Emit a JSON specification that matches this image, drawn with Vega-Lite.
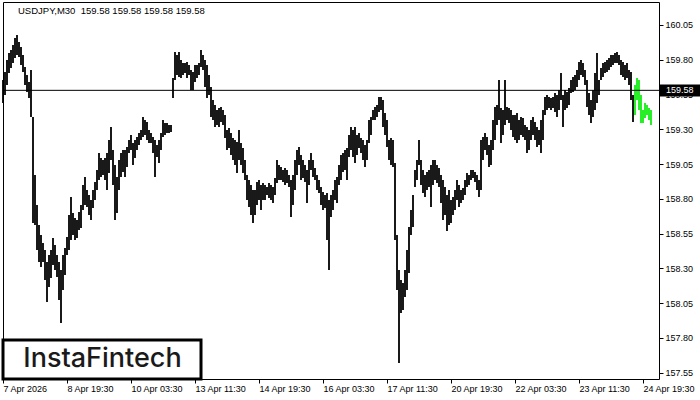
{
"$schema": "https://vega.github.io/schema/vega-lite/v6.json",
"width": 656, "height": 377,
"autosize": {"type": "none"},
"padding": {"left": 3, "top": 2, "right": 41, "bottom": 21},
"background": "white",
"config": {
"view": {"stroke": "black", "strokeWidth": 1},
"font": "Liberation Sans",
"axis": {"grid": false, "domain": false, "labelFlush": false, "labelOverlap": false, "labelBound": false, "tickSize": 4, "tickColor": "black", "labelColor": "black", "labelFontSize": 9, "labelFont": "Liberation Sans"}
},
"resolve": {"axis": {"x": "independent", "y": "independent"}},
"datasets": {
"bars": [
{"i":0,"h":159.655,"l":159.489},{"i":2,"h":159.712,"l":159.547},{"i":4,"h":159.798,"l":159.619},{"i":6,"h":159.849,"l":159.705},{"i":8,"h":159.870,"l":159.741},{"i":10,"h":159.906,"l":159.777},{"i":12,"h":159.957,"l":159.813},{"i":14,"h":159.978,"l":159.834},{"i":16,"h":159.928,"l":159.820},{"i":18,"h":159.892,"l":159.762},
{"i":20,"h":159.834,"l":159.712},{"i":22,"h":159.748,"l":159.619},{"i":24,"h":159.691,"l":159.568},{"i":26,"h":159.640,"l":159.525},{"i":28,"h":159.726,"l":159.389},{"i":30,"h":159.389,"l":158.627},{"i":32,"h":158.972,"l":158.612},{"i":34,"h":158.756,"l":158.432},{"i":36,"h":158.612,"l":158.346},{"i":38,"h":158.540,"l":158.310},
{"i":40,"h":158.483,"l":158.346},{"i":42,"h":158.432,"l":158.217},{"i":44,"h":158.346,"l":158.059},{"i":46,"h":158.397,"l":158.166},{"i":48,"h":158.432,"l":158.231},{"i":50,"h":158.519,"l":158.325},{"i":52,"h":158.468,"l":158.289},{"i":54,"h":158.397,"l":158.238},{"i":56,"h":158.346,"l":158.073},{"i":58,"h":158.289,"l":157.908},
{"i":60,"h":158.397,"l":158.145},{"i":62,"h":158.447,"l":158.253},{"i":64,"h":158.526,"l":158.397},{"i":66,"h":158.684,"l":158.432},{"i":68,"h":158.813,"l":158.504},{"i":70,"h":158.698,"l":158.540},{"i":72,"h":158.663,"l":158.504},{"i":74,"h":158.648,"l":158.519},{"i":76,"h":158.706,"l":158.576},{"i":78,"h":158.756,"l":158.591},
{"i":80,"h":158.900,"l":158.720},{"i":82,"h":158.957,"l":158.756},{"i":84,"h":158.864,"l":158.742},{"i":86,"h":158.828,"l":158.684},{"i":88,"h":158.792,"l":158.648},{"i":90,"h":158.864,"l":158.734},{"i":92,"h":158.921,"l":158.792},{"i":94,"h":159.008,"l":158.864},{"i":96,"h":159.130,"l":158.936},{"i":98,"h":159.094,"l":158.957},
{"i":100,"h":159.080,"l":158.972},{"i":102,"h":159.094,"l":158.936},{"i":104,"h":159.130,"l":158.864},{"i":106,"h":159.223,"l":158.986},{"i":108,"h":159.317,"l":159.080},{"i":110,"h":159.151,"l":158.900},{"i":112,"h":159.044,"l":158.648},{"i":114,"h":158.957,"l":158.698},{"i":116,"h":159.080,"l":158.864},{"i":118,"h":159.130,"l":158.957},
{"i":120,"h":159.151,"l":158.993},{"i":122,"h":159.151,"l":158.957},{"i":124,"h":159.173,"l":159.029},{"i":126,"h":159.223,"l":159.130},{"i":128,"h":159.259,"l":159.151},{"i":130,"h":159.202,"l":159.044},{"i":132,"h":159.223,"l":159.094},{"i":134,"h":159.245,"l":159.151},{"i":136,"h":159.274,"l":159.187},{"i":138,"h":159.295,"l":159.223},
{"i":140,"h":159.389,"l":159.245},{"i":142,"h":159.367,"l":159.259},{"i":144,"h":159.353,"l":159.223},{"i":146,"h":159.295,"l":159.202},{"i":148,"h":159.274,"l":159.202},{"i":150,"h":159.245,"l":159.130},{"i":152,"h":159.223,"l":158.957},{"i":154,"h":159.187,"l":159.101},{"i":156,"h":159.223,"l":159.058},{"i":158,"h":159.274,"l":159.151},
{"i":160,"h":159.367,"l":159.245},{"i":162,"h":159.345,"l":159.259},{"i":164,"h":159.345,"l":159.274},{"i":166,"h":159.331,"l":159.274},{"i":168,"h":159.331,"l":159.281},{"i":170,"h":159.669,"l":159.525},{"i":172,"h":159.856,"l":159.655},{"i":174,"h":159.834,"l":159.691},{"i":176,"h":159.856,"l":159.676},{"i":178,"h":159.798,"l":159.669},
{"i":180,"h":159.777,"l":159.691},{"i":182,"h":159.777,"l":159.705},{"i":184,"h":159.784,"l":159.669},{"i":186,"h":159.762,"l":159.691},{"i":188,"h":159.726,"l":159.583},{"i":190,"h":159.712,"l":159.583},{"i":192,"h":159.762,"l":159.640},{"i":194,"h":159.762,"l":159.669},{"i":196,"h":159.777,"l":159.691},{"i":198,"h":159.870,"l":159.748},
{"i":200,"h":159.834,"l":159.726},{"i":202,"h":159.798,"l":159.604},{"i":204,"h":159.762,"l":159.525},{"i":206,"h":159.691,"l":159.547},{"i":208,"h":159.604,"l":159.389},{"i":210,"h":159.511,"l":159.367},{"i":212,"h":159.475,"l":159.317},{"i":214,"h":159.439,"l":159.331},{"i":216,"h":159.453,"l":159.317},{"i":218,"h":159.460,"l":159.353},
{"i":220,"h":159.439,"l":159.331},{"i":222,"h":159.403,"l":159.238},{"i":224,"h":159.295,"l":159.151},{"i":226,"h":159.310,"l":159.166},{"i":228,"h":159.274,"l":159.115},{"i":230,"h":159.238,"l":159.080},{"i":232,"h":159.223,"l":159.044},{"i":234,"h":159.209,"l":158.986},{"i":236,"h":159.295,"l":159.080},{"i":238,"h":159.202,"l":159.044},
{"i":240,"h":159.166,"l":158.986},{"i":242,"h":159.080,"l":158.936},{"i":244,"h":158.972,"l":158.792},{"i":246,"h":158.936,"l":158.742},{"i":248,"h":158.900,"l":158.684},{"i":250,"h":158.864,"l":158.627},{"i":252,"h":158.864,"l":158.684},{"i":254,"h":158.921,"l":158.756},{"i":256,"h":158.936,"l":158.792},{"i":258,"h":158.900,"l":158.720},
{"i":260,"h":158.914,"l":158.792},{"i":262,"h":158.900,"l":158.792},{"i":264,"h":158.885,"l":158.828},{"i":266,"h":158.914,"l":158.806},{"i":268,"h":158.900,"l":158.792},{"i":270,"h":158.885,"l":158.770},{"i":272,"h":158.950,"l":158.828},{"i":274,"h":159.080,"l":158.914},{"i":276,"h":159.044,"l":158.936},{"i":278,"h":159.029,"l":158.936},
{"i":280,"h":159.008,"l":158.921},{"i":282,"h":159.022,"l":158.900},{"i":284,"h":159.008,"l":158.914},{"i":286,"h":158.972,"l":158.885},{"i":288,"h":158.936,"l":158.670},{"i":290,"h":158.972,"l":158.756},{"i":292,"h":159.080,"l":158.864},{"i":294,"h":159.151,"l":158.972},{"i":296,"h":159.173,"l":159.044},{"i":298,"h":159.115,"l":158.936},
{"i":300,"h":159.080,"l":158.950},{"i":302,"h":159.044,"l":158.921},{"i":304,"h":159.008,"l":158.770},{"i":306,"h":159.080,"l":158.900},{"i":308,"h":159.130,"l":159.008},{"i":310,"h":159.080,"l":158.957},{"i":312,"h":159.022,"l":158.936},{"i":314,"h":158.972,"l":158.864},{"i":316,"h":158.936,"l":158.842},{"i":318,"h":158.885,"l":158.756},
{"i":320,"h":158.850,"l":158.720},{"i":322,"h":158.828,"l":158.734},{"i":324,"h":158.842,"l":158.504},{"i":326,"h":158.792,"l":158.289},{"i":328,"h":158.828,"l":158.670},{"i":330,"h":158.864,"l":158.720},{"i":332,"h":158.936,"l":158.792},{"i":334,"h":158.957,"l":158.770},{"i":336,"h":159.044,"l":158.900},{"i":338,"h":159.115,"l":158.936},
{"i":340,"h":159.130,"l":158.993},{"i":342,"h":159.151,"l":159.008},{"i":344,"h":159.166,"l":158.936},{"i":346,"h":159.259,"l":159.101},{"i":348,"h":159.317,"l":159.151},{"i":350,"h":159.295,"l":159.101},{"i":352,"h":159.317,"l":159.058},{"i":354,"h":159.259,"l":159.115},{"i":356,"h":159.274,"l":159.166},{"i":358,"h":159.238,"l":159.130},
{"i":360,"h":159.223,"l":159.080},{"i":362,"h":159.187,"l":159.029},{"i":364,"h":159.223,"l":159.080},{"i":366,"h":159.367,"l":159.202},{"i":368,"h":159.389,"l":159.259},{"i":370,"h":159.439,"l":159.367},{"i":372,"h":159.460,"l":159.367},{"i":374,"h":159.475,"l":159.389},{"i":376,"h":159.532,"l":159.425},{"i":378,"h":159.532,"l":159.439},
{"i":380,"h":159.511,"l":159.317},{"i":382,"h":159.417,"l":159.259},{"i":384,"h":159.367,"l":159.173},{"i":386,"h":159.223,"l":159.080},{"i":388,"h":159.238,"l":159.044},{"i":390,"h":159.223,"l":159.029},{"i":392,"h":159.058,"l":158.504},{"i":394,"h":158.540,"l":158.145},{"i":396,"h":158.289,"l":157.620},{"i":398,"h":158.217,"l":157.980},
{"i":400,"h":158.195,"l":158.001},{"i":402,"h":158.289,"l":158.095},{"i":404,"h":158.432,"l":158.145},{"i":406,"h":158.598,"l":158.267},{"i":408,"h":158.720,"l":158.540},{"i":410,"h":158.828,"l":158.598},{"i":412,"h":159.008,"l":158.885},{"i":414,"h":159.080,"l":158.936},{"i":416,"h":159.223,"l":159.044},{"i":418,"h":159.080,"l":158.900},
{"i":420,"h":159.008,"l":158.842},{"i":422,"h":158.972,"l":158.813},{"i":424,"h":158.993,"l":158.864},{"i":426,"h":159.008,"l":158.885},{"i":428,"h":159.044,"l":158.742},{"i":430,"h":159.080,"l":158.900},{"i":432,"h":159.080,"l":158.936},{"i":434,"h":159.044,"l":158.914},{"i":436,"h":159.022,"l":158.885},{"i":438,"h":158.972,"l":158.770},
{"i":440,"h":158.936,"l":158.648},{"i":442,"h":158.885,"l":158.684},{"i":444,"h":158.828,"l":158.569},{"i":446,"h":158.864,"l":158.612},{"i":448,"h":158.792,"l":158.627},{"i":450,"h":158.813,"l":158.684},{"i":452,"h":158.864,"l":158.720},{"i":454,"h":158.936,"l":158.792},{"i":456,"h":158.900,"l":158.742},{"i":458,"h":158.864,"l":158.770},
{"i":460,"h":158.878,"l":158.792},{"i":462,"h":158.936,"l":158.828},{"i":464,"h":158.986,"l":158.885},{"i":466,"h":158.972,"l":158.900},{"i":468,"h":159.008,"l":158.936},{"i":470,"h":159.008,"l":158.950},{"i":472,"h":158.993,"l":158.921},{"i":474,"h":158.972,"l":158.864},{"i":476,"h":158.936,"l":158.813},{"i":478,"h":159.223,"l":158.864},
{"i":480,"h":159.245,"l":159.080},{"i":482,"h":159.274,"l":159.151},{"i":484,"h":159.245,"l":159.115},{"i":486,"h":159.187,"l":159.029},{"i":488,"h":159.223,"l":159.044},{"i":490,"h":159.367,"l":159.151},{"i":492,"h":159.460,"l":159.223},{"i":494,"h":159.475,"l":159.331},{"i":496,"h":159.655,"l":159.367},{"i":498,"h":159.453,"l":159.202},
{"i":500,"h":159.439,"l":159.259},{"i":502,"h":159.655,"l":159.331},{"i":504,"h":159.460,"l":159.367},{"i":506,"h":159.453,"l":159.345},{"i":508,"h":159.439,"l":159.295},{"i":510,"h":159.403,"l":159.245},{"i":512,"h":159.403,"l":159.223},{"i":514,"h":159.417,"l":159.202},{"i":516,"h":159.367,"l":159.223},{"i":518,"h":159.389,"l":159.259},
{"i":520,"h":159.381,"l":159.245},{"i":522,"h":159.331,"l":159.223},{"i":524,"h":159.317,"l":159.130},{"i":526,"h":159.295,"l":159.151},{"i":528,"h":159.367,"l":159.223},{"i":530,"h":159.389,"l":159.259},{"i":532,"h":159.353,"l":159.223},{"i":534,"h":159.317,"l":159.173},{"i":536,"h":159.295,"l":159.187},{"i":538,"h":159.367,"l":159.130},
{"i":540,"h":159.439,"l":159.223},{"i":542,"h":159.532,"l":159.403},{"i":544,"h":159.547,"l":159.439},{"i":546,"h":159.532,"l":159.453},{"i":548,"h":159.525,"l":159.439},{"i":550,"h":159.532,"l":159.453},{"i":552,"h":159.561,"l":159.425},{"i":554,"h":159.547,"l":159.389},{"i":556,"h":159.583,"l":159.439},{"i":558,"h":159.705,"l":159.511},
{"i":560,"h":159.547,"l":159.317},{"i":562,"h":159.583,"l":159.439},{"i":564,"h":159.568,"l":159.453},{"i":566,"h":159.597,"l":159.475},{"i":568,"h":159.655,"l":159.561},{"i":570,"h":159.676,"l":159.568},{"i":572,"h":159.691,"l":159.583},{"i":574,"h":159.726,"l":159.604},{"i":576,"h":159.784,"l":159.655},{"i":578,"h":159.798,"l":159.691},
{"i":580,"h":159.777,"l":159.676},{"i":582,"h":159.726,"l":159.619},{"i":584,"h":159.655,"l":159.460},{"i":586,"h":159.561,"l":159.403},{"i":588,"h":159.511,"l":159.345},{"i":590,"h":159.583,"l":159.389},{"i":592,"h":159.705,"l":159.439},{"i":594,"h":159.849,"l":159.489},{"i":596,"h":159.655,"l":159.547},{"i":598,"h":159.741,"l":159.655},
{"i":600,"h":159.777,"l":159.676},{"i":602,"h":159.784,"l":159.705},{"i":604,"h":159.798,"l":159.712},{"i":606,"h":159.813,"l":159.726},{"i":608,"h":159.834,"l":159.748},{"i":610,"h":159.834,"l":159.762},{"i":612,"h":159.849,"l":159.777},{"i":614,"h":159.856,"l":159.777},{"i":616,"h":159.834,"l":159.762},{"i":618,"h":159.798,"l":159.691},
{"i":620,"h":159.784,"l":159.676},{"i":622,"h":159.762,"l":159.655},{"i":624,"h":159.777,"l":159.669},{"i":626,"h":159.726,"l":159.619},{"i":628,"h":159.712,"l":159.511},{"i":630,"h":159.547,"l":159.353},
{"i":632,"h":159.619,"l":159.403,"g":1},{"i":634,"h":159.669,"l":159.511,"g":1},{"i":636,"h":159.655,"l":159.439,"g":1},{"i":638,"h":159.547,"l":159.345,"g":1},{"i":640,"h":159.439,"l":159.345,"g":1},{"i":642,"h":159.489,"l":159.381,"g":1},{"i":644,"h":159.475,"l":159.403,"g":1},{"i":646,"h":159.453,"l":159.367,"g":1},{"i":648,"h":159.439,"l":159.331,"g":1}
]
},
"layer": [
{
"data": {"name": "bars"},
"mark": {"type": "rule", "strokeWidth": 1.8},
"encoding": {
"x": {"field": "i", "type": "quantitative", "title": null, "scale": {"domain": [0, 656], "nice": false, "zero": false},
"axis": {"values": [0,64,128,192,256,320,384,448,512,576,640],
"labelExpr": "['7 Apr 2026','8 Apr 19:30','10 Apr 03:30','13 Apr 11:30','14 Apr 19:30','16 Apr 03:30','17 Apr 11:30','20 Apr 19:30','22 Apr 03:30','23 Apr 11:30','24 Apr 19:30'][round(datum.value/64)]",
"labelAlign": "left", "labelPadding": 1, "labelOverlap": false, "labelFlush": false, "labelBound": false}},
"y": {"field": "l", "type": "quantitative", "title": null, "scale": {"domain": [157.505, 160.215], "nice": false, "zero": false},
"axis": {"orient": "right", "values": [157.55,157.8,158.05,158.3,158.55,158.8,159.05,159.3,159.55,159.8,160.05], "format": ".2f", "labelPadding": 2, "labelOverlap": false, "labelFlush": false, "labelBound": false}},
"y2": {"field": "h"},
"color": {"condition": {"test": "datum.g === 1", "value": "#10ee10"}, "value": "black"}
}
},
{
"data": {"values": [{"price": 159.58}]},
"mark": {"type": "rule", "color": "black", "strokeWidth": 1},
"encoding": {
"y": {"field": "price", "type": "quantitative", "axis": null, "scale": {"domain": [157.505, 160.215], "nice": false, "zero": false}}
}
},
{
"data": {"values": [{"x0": 0, "x1": 198, "y0": 157.505, "y1": 157.785}]},
"mark": {"type": "rect", "fill": "white", "stroke": "black", "strokeWidth": 3},
"encoding": {
"x": {"field": "x0", "type": "quantitative", "axis": null, "scale": {"domain": [0, 656], "nice": false, "zero": false}},
"x2": {"field": "x1"},
"y": {"field": "y0", "type": "quantitative", "axis": null, "scale": {"domain": [157.505, 160.215], "nice": false, "zero": false}},
"y2": {"field": "y1"}
}
},
{
"data": {"values": [{"x": 99.5, "y": 157.649, "t": "InstaFintech"}]},
"mark": {"type": "text", "font": "Inter", "fontSize": 27, "fontWeight": 500, "color": "#1a1a1a", "align": "center", "baseline": "middle"},
"encoding": {
"x": {"field": "x", "type": "quantitative", "axis": null, "scale": {"domain": [0, 656], "nice": false, "zero": false}},
"y": {"field": "y", "type": "quantitative", "axis": null, "scale": {"domain": [157.505, 160.215], "nice": false, "zero": false}},
"text": {"field": "t"}
}
},
{
"data": {"values": [{"x": 15, "y": 160.151, "t": "USDJPY,M30\u00a0\u00a0159.58 159.58 159.58 159.58"}]},
"mark": {"type": "text", "font": "Liberation Sans", "fontSize": 9.5, "color": "black", "align": "left", "baseline": "middle"},
"encoding": {
"x": {"field": "x", "type": "quantitative", "axis": null, "scale": {"domain": [0, 656], "nice": false, "zero": false}},
"y": {"field": "y", "type": "quantitative", "axis": null, "scale": {"domain": [157.505, 160.215], "nice": false, "zero": false}},
"text": {"field": "t"}
}
},
{
"data": {"values": [{"x0": 657, "x1": 697, "y0": 159.536, "y1": 159.622}]},
"mark": {"type": "rect", "fill": "black"},
"encoding": {
"x": {"field": "x0", "type": "quantitative", "axis": null, "scale": {"domain": [0, 656], "nice": false, "zero": false}},
"x2": {"field": "x1"},
"y": {"field": "y0", "type": "quantitative", "axis": null, "scale": {"domain": [157.505, 160.215], "nice": false, "zero": false}},
"y2": {"field": "y1"}
}
},
{
"data": {"values": [{"x": 663, "y": 159.58, "t": "159.58"}]},
"mark": {"type": "text", "font": "Liberation Sans", "fontSize": 9, "color": "white", "align": "left", "baseline": "middle"},
"encoding": {
"x": {"field": "x", "type": "quantitative", "axis": null, "scale": {"domain": [0, 656], "nice": false, "zero": false}},
"y": {"field": "y", "type": "quantitative", "axis": null, "scale": {"domain": [157.505, 160.215], "nice": false, "zero": false}},
"text": {"field": "t"}
}
}
]
}
